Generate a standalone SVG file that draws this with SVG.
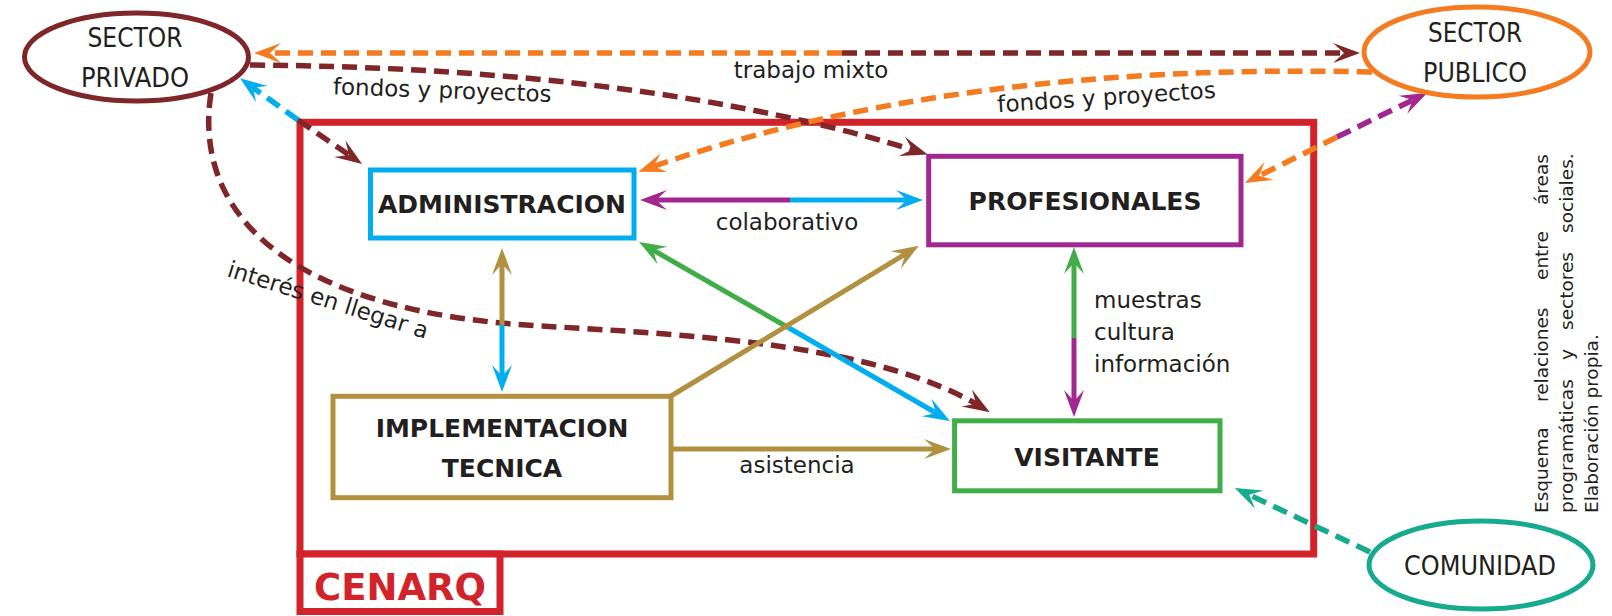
<svg xmlns="http://www.w3.org/2000/svg" width="1612" height="616" viewBox="0 0 1612 616">
<defs>
<style>
text{font-family:"DejaVu Sans","Liberation Sans",sans-serif;fill:#231f20}
.lbl{font-size:23px}
.mid{text-anchor:middle}
.node{font-size:25px;font-weight:bold;text-anchor:middle}
.ell{font-size:26px;text-anchor:middle}
.side{font-size:18.5px}
.box{fill:#fff;stroke-width:5}
.c{fill:none;stroke-width:5}
.d{fill:none;stroke-width:5.5;stroke-dasharray:15 8}
</style>
<marker id="m-maroon" markerUnits="userSpaceOnUse" orient="auto" overflow="visible" markerWidth="30" markerHeight="30"><path d="M8,0 L-19,-10 L-8,0 L-19,10 Z" fill="#7f2629"/></marker>
<marker id="m-orange" markerUnits="userSpaceOnUse" orient="auto" overflow="visible" markerWidth="30" markerHeight="30"><path d="M8,0 L-19,-10 L-8,0 L-19,10 Z" fill="#f47b20"/></marker>
<marker id="m-cyan" markerUnits="userSpaceOnUse" orient="auto" overflow="visible" markerWidth="30" markerHeight="30"><path d="M8,0 L-19,-10 L-8,0 L-19,10 Z" fill="#00aeef"/></marker>
<marker id="m-purple" markerUnits="userSpaceOnUse" orient="auto" overflow="visible" markerWidth="30" markerHeight="30"><path d="M8,0 L-19,-10 L-8,0 L-19,10 Z" fill="#a0288f"/></marker>
<marker id="m-gold" markerUnits="userSpaceOnUse" orient="auto" overflow="visible" markerWidth="30" markerHeight="30"><path d="M8,0 L-19,-10 L-8,0 L-19,10 Z" fill="#b1913f"/></marker>
<marker id="m-green" markerUnits="userSpaceOnUse" orient="auto" overflow="visible" markerWidth="30" markerHeight="30"><path d="M8,0 L-19,-10 L-8,0 L-19,10 Z" fill="#41ad49"/></marker>
<marker id="m-teal" markerUnits="userSpaceOnUse" orient="auto" overflow="visible" markerWidth="30" markerHeight="30"><path d="M8,0 L-19,-10 L-8,0 L-19,10 Z" fill="#16ab8f"/></marker>
</defs>
<rect width="1612" height="616" fill="#fff"/>

<g id="cenarq">
<rect x="300" y="122.3" width="1013.7" height="431.7" fill="none" stroke="#d2232a" stroke-width="7"/>
<rect x="300" y="554" width="200" height="57.5" fill="#fff" stroke="#d2232a" stroke-width="7"/>
<text x="400" y="600" style="font-size:37px;font-weight:bold;fill:#d2232a" class="mid">CENARQ</text>
</g>

<g id="connectors">
<!-- trabajo mixto -->
<path class="d" stroke="#f47b20" d="M842,53 L262,53" marker-end="url(#m-orange)"/>
<path class="d" stroke="#7f2629" d="M842,53 L1352,53" marker-end="url(#m-maroon)"/>
<!-- fondos y proyectos privado -> profesionales -->
<path class="d" stroke="#7f2629" d="M250,65 Q650,68 920,152" marker-end="url(#m-maroon)"/>
<!-- fondos y proyectos publico -> administracion -->
<path class="d" stroke="#f47b20" d="M1372,72 Q950,62 646,169" marker-end="url(#m-orange)"/>
<!-- privado <-> administracion -->
<path class="d" stroke="#00aeef" d="M298,120 L246.5,83" marker-end="url(#m-cyan)"/>
<path class="d" stroke="#7f2629" d="M298,120 L355.5,159.4" marker-end="url(#m-maroon)"/>
<!-- interes en llegar a -->
<path class="d" stroke="#7f2629" d="M211,93 C192,215 290,312 540,326 C700,335 880,345 983,408" marker-end="url(#m-maroon)"/>
<!-- colaborativo -->
<path class="c" stroke="#a0288f" d="M790,200 L648,200" marker-end="url(#m-purple)"/>
<path class="c" stroke="#00aeef" d="M790,200 L915,200" marker-end="url(#m-cyan)"/>
<!-- admin <-> implementacion -->
<path class="c" stroke="#b1913f" d="M502,325 L502,256" marker-end="url(#m-gold)"/>
<path class="c" stroke="#00aeef" d="M502,325 L502,384" marker-end="url(#m-cyan)"/>
<!-- admin <-> visitante -->
<path class="c" stroke="#41ad49" d="M789,328 L646,246" marker-end="url(#m-green)"/>
<path class="c" stroke="#00aeef" d="M789,328 L943,417" marker-end="url(#m-cyan)"/>
<!-- implementacion -> profesionales -->
<path class="c" stroke="#b1913f" d="M671,396 L912,250" marker-end="url(#m-gold)"/>
<!-- asistencia -->
<path class="c" stroke="#b1913f" d="M671,449 L943,449" marker-end="url(#m-gold)"/>
<!-- profesionales <-> visitante -->
<path class="c" stroke="#41ad49" d="M1074,338 L1074,255" marker-end="url(#m-green)"/>
<path class="c" stroke="#a0288f" d="M1074,338 L1074,409" marker-end="url(#m-purple)"/>
<!-- publico <-> profesionales -->
<path class="d" stroke="#a0288f" d="M1337,137 L1420,96.5" marker-end="url(#m-purple)"/>
<path class="d" stroke="#f47b20" d="M1337,137 L1252,179.4" marker-end="url(#m-orange)"/>
<!-- comunidad -> visitante -->
<path class="d" stroke="#16ab8f" d="M1370,552 L1242,491.4" marker-end="url(#m-teal)"/>

<text class="lbl mid" x="811" y="78">trabajo mixto</text>
<text class="lbl mid" x="442" y="98" transform="rotate(2 442 98)">fondos y proyectos</text>
<text class="lbl mid" x="1107" y="105" transform="rotate(-3.8 1107 105)">fondos y proyectos</text>
<text class="lbl" x="226" y="276" transform="rotate(17.5 226 276)">interés en llegar a</text>
<text class="lbl mid" x="787" y="230">colaborativo</text>
<text class="lbl mid" x="797" y="473">asistencia</text>
<text class="lbl" x="1094" y="308">muestras</text>
<text class="lbl" x="1094" y="340">cultura</text>
<text class="lbl" x="1094" y="372">información</text>
</g>

<g id="sector-privado">
<ellipse cx="136.5" cy="57" rx="112" ry="44" fill="none" stroke="#7f2629" stroke-width="5"/>
<text class="ell" x="135" y="47" textLength="95" lengthAdjust="spacingAndGlyphs">SECTOR</text>
<text class="ell" x="135" y="87" textLength="108" lengthAdjust="spacingAndGlyphs">PRIVADO</text>
</g>

<g id="sector-publico">
<ellipse cx="1477" cy="52" rx="113" ry="45" fill="none" stroke="#f47b20" stroke-width="5"/>
<text class="ell" x="1475" y="42" textLength="94" lengthAdjust="spacingAndGlyphs">SECTOR</text>
<text class="ell" x="1475" y="82" textLength="104" lengthAdjust="spacingAndGlyphs">PUBLICO</text>
</g>

<g id="comunidad">
<ellipse cx="1481" cy="565" rx="112" ry="44" fill="none" stroke="#16ab8f" stroke-width="5"/>
<text class="ell" x="1480" y="575" textLength="152" lengthAdjust="spacingAndGlyphs">COMUNIDAD</text>
</g>

<g id="administracion">
<rect class="box" x="370.5" y="170" width="263.5" height="68" stroke="#00aeef"/>
<text class="node" x="502" y="213">ADMINISTRACION</text>
</g>

<g id="profesionales">
<rect class="box" x="928.7" y="156.3" width="312.3" height="88.5" stroke="#a0288f"/>
<text class="node" x="1085" y="210">PROFESIONALES</text>
</g>

<g id="implementacion">
<rect class="box" x="333" y="396.3" width="338" height="101.4" stroke="#b1913f"/>
<text class="node" x="502" y="437">IMPLEMENTACION</text>
<text class="node" x="502" y="477">TECNICA</text>
</g>

<g id="visitante">
<rect class="box" x="954.6" y="420.8" width="265.4" height="70" stroke="#41ad49"/>
<text class="node" x="1087" y="466">VISITANTE</text>
</g>

<g id="caption" transform="translate(1548 513) rotate(-90)">
<text class="side" x="0" y="0">Esquema</text>
<text class="side" x="111" y="0">relaciones</text>
<text class="side" x="233" y="0">entre</text>
<text class="side" x="308" y="0">áreas</text>
<text class="side" x="0" y="25">programáticas</text>
<text class="side" x="153" y="25">y</text>
<text class="side" x="183" y="25">sectores</text>
<text class="side" x="280" y="25">sociales.</text>
<text class="side" x="0" y="50">Elaboración propia.</text>
</g>
</svg>
